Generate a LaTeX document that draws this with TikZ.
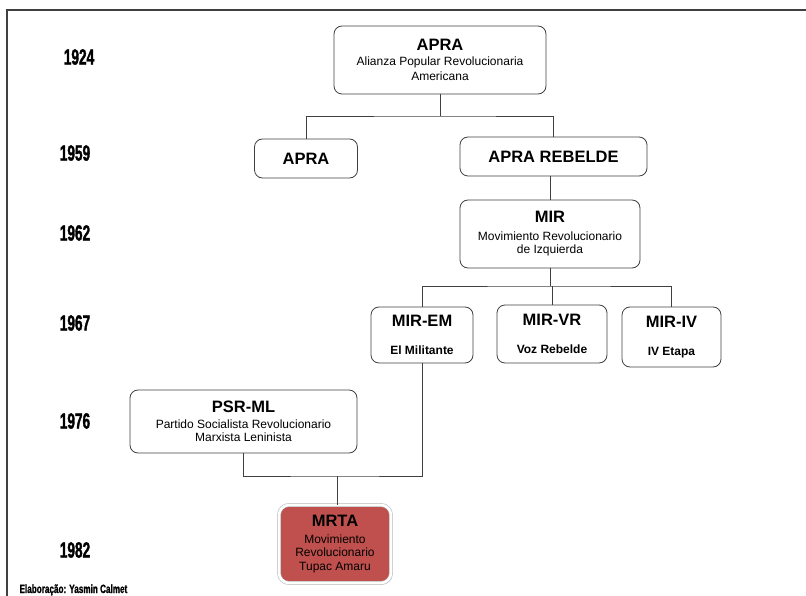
\documentclass[tikz,border=0pt]{standalone}
\usepackage{fontspec}
\setmainfont{Liberation Sans}
\newfontfamily\yearfont[FakeStretch=0.62,FakeBold=1.5]{Liberation Sans}
\newfontfamily\signfont[FakeStretch=0.68,FakeBold=1]{Liberation Sans}
\usetikzlibrary{shadows}
\definecolor{linegray}{RGB}{64,64,64}
\definecolor{mrtared}{RGB}{192,80,77}
\newcommand{\tit}[1]{{\fontsize{16.5}{18}\selectfont\bfseries #1}}
\tikzset{
  partido/.style={draw=linegray,line width=0.8pt,rounded corners=8pt,fill=white,
    align=center,inner sep=0pt,font=\fontsize{12}{14}\selectfont},
  mrtabox/.style={partido,fill=mrtared,draw=gray!55,double=white,double distance=2.6pt,
    line width=0.6pt,rounded corners=10pt,
    drop shadow={opacity=0.25,shadow xshift=1.5pt,shadow yshift=-1.5pt}},
  year/.style={font=\yearfont\bfseries\fontsize{22}{24}\selectfont},
  enlace/.style={draw=linegray,line width=0.8pt}
}
\begin{document}
\begin{tikzpicture}[x=1pt,y=-1pt]
  \useasboundingbox (0,0) rectangle (806,596);
  \draw[linegray,line width=1.5pt] (7,600) -- (7,10) -- (810,10);
  % years
  \foreach \x/\y/\a in {79/57/1924,75/153/1959,75/233/1962,75/323/1967,75/421/1976,75/550/1982}{
    \node[year] (y\a) at (\x,\y) {\a};
  }
  % parties
  \node[partido,minimum width=212pt,minimum height=68pt] (apra) at (440,60)
    {\tit{APRA}\\[1.5pt] Alianza Popular Revolucionaria\\[1pt] Americana};
  \node[partido,minimum width=103pt,minimum height=39pt] (apra59) at (306,158.5) {\tit{APRA}};
  \node[partido,minimum width=187pt,minimum height=39pt] (rebelde) at (553.5,156.5) {\tit{APRA REBELDE}};
  \node[partido,minimum width=180pt,minimum height=68pt] (mir) at (550,234)
    {\tit{MIR}\\[4pt] Movimiento Revolucionario\\[-1pt] de Izquierda};
  \node[partido,minimum width=102pt,minimum height=56pt] (miremp) at (422,335)
    {\tit{MIR-EM}\\[14pt] \textbf{El Militante}};
  \node[partido,minimum width=110pt,minimum height=58pt] (mirvr) at (552,334)
    {\tit{MIR-VR}\\[14pt] \textbf{Voz Rebelde}};
  \node[partido,minimum width=99pt,minimum height=60pt] (miriv) at (671.5,337)
    {\tit{MIR-IV}\\[14pt] \textbf{IV Etapa}};
  \node[partido,minimum width=227pt,minimum height=63pt] (psrml) at (243.5,421.5)
    {\tit{PSR-ML}\\[2.5pt] Partido Socialista Revolucionario\\[-1pt] Marxista Leninista};
  \node[mrtabox,minimum width=112pt,minimum height=78pt] (mrta) at (335,544)
    {\tit{MRTA}\\[2.5pt] Movimiento\\[-0.5pt] Revolucionario\\[-0.5pt] Tupac Amaru};
  % links
  \coordinate (bus1) at (440,116);
  \coordinate (bus2) at (551,286);
  \coordinate (bus3) at (337,476);
  \draw[enlace] (apra.south) -- (bus1);
  \draw[enlace] (apra59.north) |- (bus1) -| (rebelde.north);
  \draw[enlace] (mir.north) -- (mir.north |- rebelde.south);
  \draw[enlace] (mir.south) -- (mir.south |- bus2);
  \draw[enlace] (miremp.north) |- (bus2) -| (miriv.north);
  \draw[enlace] (mirvr.north) -- (mirvr.north |- bus2);
  \draw[enlace] (psrml.south) |- (bus3) -| (miremp.south);
  \draw[enlace] (bus3) -- (bus3 |- mrta.north);
  \node[anchor=base west,font=\signfont\bfseries\fontsize{12}{14}\selectfont] (firma) at (16,593)
    {Elaboração: Yasmin Calmet};
\end{tikzpicture}
\end{document}
